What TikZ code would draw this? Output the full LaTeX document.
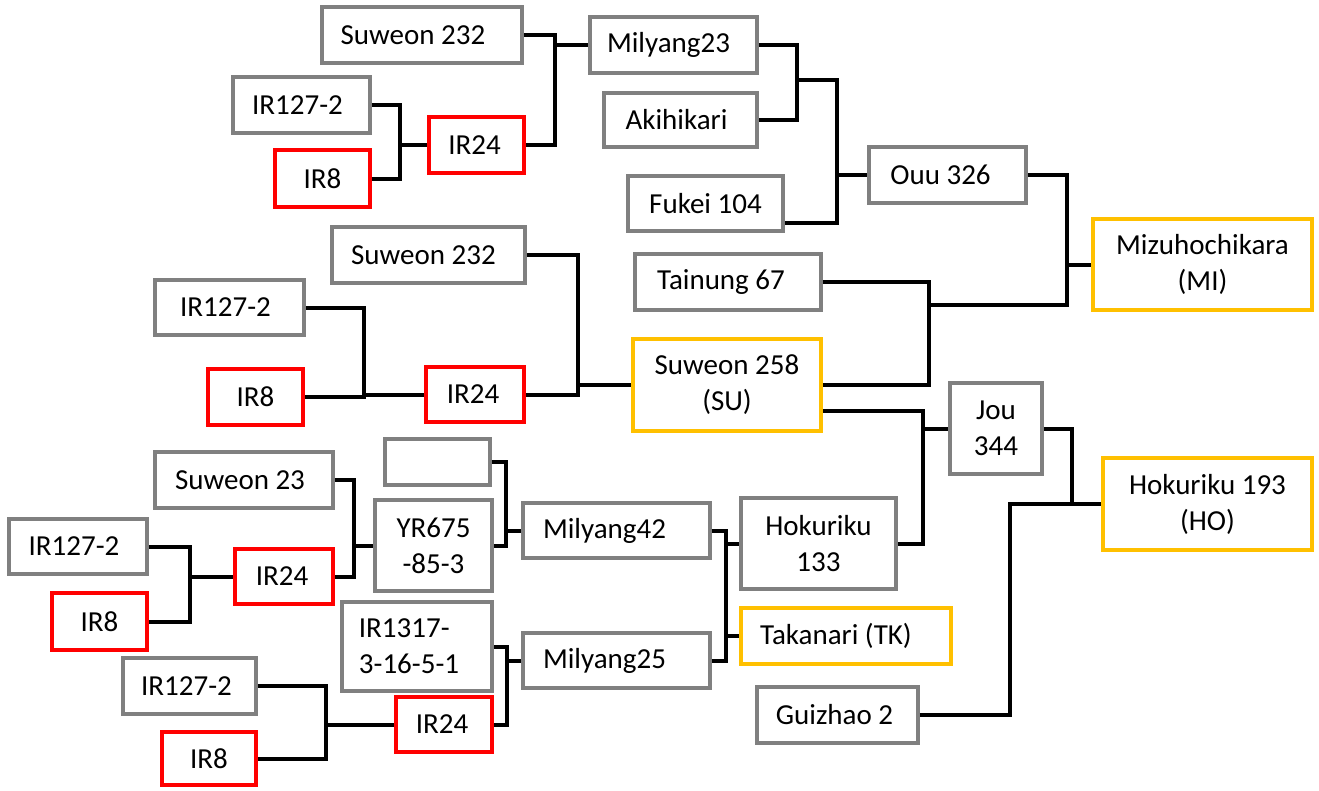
\documentclass[tikz,border=0pt]{standalone}
\usepackage{fontspec}
\setmainfont{Carlito}
\definecolor{gbord}{HTML}{808080}
\definecolor{rbord}{HTML}{FF0000}
\definecolor{ybord}{HTML}{FFC000}
\tikzset{
  basebox/.style={rectangle,inner sep=0pt,align=center,line width=3.5pt,fill=white,
    font=\fontsize{29}{36}\selectfont},
  gbox/.style={basebox,draw=gbord},
  rbox/.style={basebox,draw=rbord},
  ybox/.style={basebox,draw=ybord},
  conn/.style={draw=black,line width=4pt,line join=miter},
}
\newcommand\bx[7]{\node[#1,minimum width={(#5-#3)*1pt},minimum height={(#6-#4)*1pt}] (#2) at ({(#3+#5)/2},{(#4+#6)/2}) {#7};}
\newcommand\pad[1]{\hspace*{#1pt}}
\begin{document}
\begin{tikzpicture}[x=1pt,y=-1pt]
\useasboundingbox (0,0) rectangle (1319,790);
% top group
\bx{gbox}{swa}{322}{7}{522}{63}{Suweon 232\pad{18}}
\bx{gbox}{ira}{233}{77}{370}{133}{IR127-2\pad{8}}
\bx{rbox}{eighta}{275}{150}{370}{207}{IR8}
\bx{rbox}{tfa}{429}{117}{524}{173}{IR24\pad{4}}
\bx{gbox}{mil23}{590}{17}{757}{73}{Milyang23\pad{10}}
\bx{gbox}{aki}{604}{93}{757}{147}{Akihikari\pad{8}}
\bx{gbox}{fuk}{628}{176}{783}{231}{Fukei 104}
\bx{gbox}{ouu}{869}{147}{1026}{203}{Ouu 326\pad{14}}
\bx{ybox}{mi}{1093}{219}{1312}{310}{Mizuhochikara\\(MI)}
% second group
\bx{gbox}{swb}{332}{227}{525}{283}{Suweon 232\pad{10}}
\bx{gbox}{irb}{155}{280}{304}{335}{IR127-2\pad{8}}
\bx{rbox}{eightb}{208}{369}{303}{425}{IR8}
\bx{rbox}{tfb}{426}{367}{524}{422}{IR24\pad{4}}
\bx{gbox}{tai}{635}{254}{821}{310}{Tainung 67\pad{14}}
\bx{ybox}{su}{633}{339}{821}{431}{Suweon 258\\(SU)}
\bx{gbox}{jou}{950}{383}{1042}{474}{Jou\\344}
\bx{ybox}{ho}{1103}{458}{1312}{550}{Hokuriku 193\\(HO)}
% third group
\bx{gbox}{emp}{385}{439}{490}{485}{}
\bx{gbox}{sw23}{155}{452}{333}{508}{Suweon 23\pad{8}}
\bx{gbox}{yr}{375}{500}{492}{591}{YR675\\-85-3}
\bx{gbox}{irc}{9}{519}{147}{574}{IR127-2\pad{8}}
\bx{rbox}{tfc}{235}{549}{333}{604}{IR24\pad{4}}
\bx{rbox}{eightc}{52}{593}{147}{650}{IR8}
\bx{gbox}{mil42}{523}{503}{710}{558}{Milyang42\pad{24}}
\bx{gbox}{hok}{741}{498}{896}{589}{Hokuriku\\133}
\bx{ybox}{tak}{741}{608}{951}{664}{Takanari (TK)\pad{20}}
% fourth group
\node[gbox,align=left,minimum width=150pt,minimum height=89pt] (ir1317) at (417,646.5) {IR1317-\pad{16}\\3-16-5-1\pad{16}};
\bx{rbox}{tfd}{396}{697}{492}{752}{IR24\pad{4}}
\bx{gbox}{ird}{123}{658}{256}{714}{IR127-2\pad{6}}
\bx{rbox}{eightd}{162}{732}{256}{785}{IR8}
\bx{gbox}{mil25}{523}{633}{710}{688}{Milyang25\pad{24}}
\bx{gbox}{gui}{757}{687}{918}{743}{Guizhao 2\pad{6}}
% junction coordinates
\coordinate (xa) at (400,0);
\coordinate (xb) at (555,0);
\coordinate (xc) at (797,80);
\coordinate (xd) at (837,80);
\coordinate (xe) at (1067,305);
\coordinate (xf) at (929,305);
\coordinate (xg) at (578,0);
\coordinate (xh) at (364,0);
\coordinate (xi) at (923,0);
\coordinate (xj) at (1072,0);
\coordinate (xk) at (1010,0);
\coordinate (xl) at (726,0);
\coordinate (xm) at (506,0);
\coordinate (xn) at (354,0);
\coordinate (xo) at (190,0);
\coordinate (xp) at (507,0);
\coordinate (xq) at (326,0);
% connectors
\draw[conn] (ira.east) -| (xa |- eighta.east) -- (eighta.east);
\draw[conn] (xa |- tfa.west) -- (tfa.west);
\draw[conn] (swa.east) -| (xb |- tfa.east) -- (tfa.east);
\draw[conn] (xb |- mil23.west) -- (mil23.west);
\draw[conn] (mil23.east) -| (xc |- aki.east) -- (aki.east);
\draw[conn] (xc) -- (xd) |- ([yshift=-19.5pt]fuk.east);
\draw[conn] (xd |- ouu.west) -- (ouu.west);
\draw[conn] (ouu.east) -| (xe) -- (xf);
\draw[conn] (xe |- mi.west) -- (mi.west);
\draw[conn] (tai.east) -| (xf |- su.east) -- (su.east);
\draw[conn] (swb.east) -| (xg |- tfb.east) -- (tfb.east);
\draw[conn] (xg |- su.west) -- (su.west);
\draw[conn] (irb.east) -| (xh |- eightb.east) -- (eightb.east);
\draw[conn] (xh |- tfb.west) -- (tfb.west);
\draw[conn] ([yshift=-26pt]su.east) -| (xi |- hok.east) -- (hok.east);
\draw[conn] (xi |- jou.west) -- (jou.west);
\draw[conn] (jou.east) -| (xj |- ho.west) -- (ho.west);
\draw[conn] (gui.east) -| (xk |- ho.west) -- (xj |- ho.west);
\draw[conn] (mil42.east) -| (xl |- mil25.east) -- (mil25.east);
\draw[conn] (xl |- hok.west) -- (hok.west);
\draw[conn] (xl |- tak.west) -- (tak.west);
\draw[conn] (emp.east) -| (xm |- yr.east) -- (yr.east);
\draw[conn] (xm |- mil42.west) -- (mil42.west);
\draw[conn] (sw23.east) -| (xn |- tfc.east) -- (tfc.east);
\draw[conn] (xn |- yr.west) -- (yr.west);
\draw[conn] (irc.east) -| (xo |- eightc.east) -- (eightc.east);
\draw[conn] (xo |- tfc.west) -- (tfc.west);
\draw[conn] (ir1317.east) -| (xp |- tfd.east) -- (tfd.east);
\draw[conn] (xp |- mil25.west) -- (mil25.west);
\draw[conn] (ird.east) -| (xq |- eightd.east) -- (eightd.east);
\draw[conn] (xq |- tfd.west) -- (tfd.west);
\end{tikzpicture}
\end{document}
